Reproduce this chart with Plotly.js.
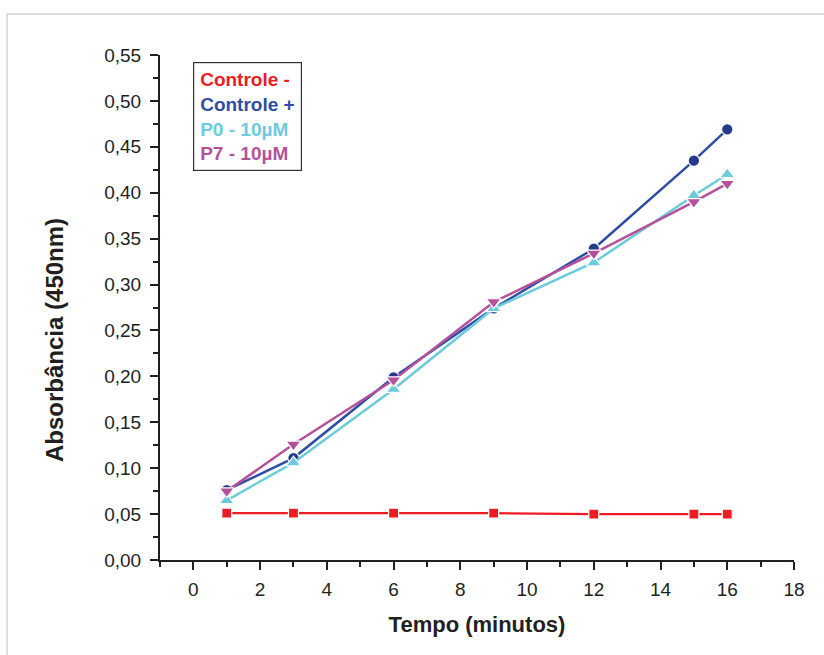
<!DOCTYPE html>
<html>
<head>
<meta charset="utf-8">
<script src="https://cdn.plot.ly/plotly-3.0.1.min.js"></script>
<style>
  html, body { margin: 0; padding: 0; background: #fff; }
  #wrap { position: relative; width: 824px; height: 655px; overflow: hidden; }
  #frame { position: absolute; left: 6px; top: 13px; width: 840px; height: 700px;
           border: 2px solid #dedede; box-sizing: border-box; }
  #chart { position: absolute; left: 0; top: 0; width: 824px; height: 655px; }
</style>
</head>
<body>
<div id="wrap">
  <div id="frame"></div>
  <div id="chart"></div>
</div>
<script>
// Data
const tempo = [1, 3, 6, 9, 12, 15, 16];
const controleNeg = [0.051, 0.051, 0.051, 0.051, 0.050, 0.050, 0.050];
const controlePos = [0.076, 0.111, 0.199, 0.274, 0.339, 0.435, 0.469];
const p0 = [0.065, 0.106, 0.186, 0.274, 0.324, 0.397, 0.420];
const p7 = [0.075, 0.126, 0.196, 0.281, 0.334, 0.390, 0.410];
const seriesNames = ["Controle -", "Controle +", "P0 - 10µM", "P7 - 10µM"];
const xTitle = "Tempo (minutos)";
const yTitle = "Absorbância (450nm)";

const colors = {
  neg: "#ed1c24",
  posLine: "#2e4ea3",
  posMarker: "#253a8c",
  p0: "#6ccbdb",
  p7: "#b5519b"
};

const traces = [
  { x: tempo, y: controleNeg, name: seriesNames[0], mode: "lines+markers",
    line: { color: colors.neg, width: 2.2 },
    marker: { symbol: "square", size: 10, color: colors.neg, line: { color: "#fff", width: 1.2 } },
    cliponaxis: false },
  { x: tempo, y: controlePos, name: seriesNames[1], mode: "lines+markers",
    line: { color: colors.posLine, width: 2.5 },
    marker: { symbol: "circle", size: 11.5, color: colors.posMarker, line: { color: "#fff", width: 1.2 } },
    cliponaxis: false },
  { x: tempo, y: p0, name: seriesNames[2], mode: "lines+markers",
    line: { color: colors.p0, width: 2.5 },
    marker: { symbol: "triangle-up", size: 13, color: colors.p0, line: { color: "#fff", width: 1.2 } },
    cliponaxis: false },
  { x: tempo, y: p7, name: seriesNames[3], mode: "lines+markers",
    line: { color: colors.p7, width: 2.5 },
    marker: { symbol: "triangle-down", size: 13, color: colors.p7, line: { color: "#fff", width: 1.2 } },
    cliponaxis: false }
];

const legendColors = [colors.neg, colors.posLine, colors.p0, colors.p7];
const legendText = seriesNames.map((n, i) =>
  `<span style="color:${legendColors[i]}">${n}</span>`).join("<br>");

const axisColor = "#231f20";
const fontFam = "'Liberation Sans', Arial, sans-serif";

const layout = {
  width: 824, height: 655,
  paper_bgcolor: "rgba(0,0,0,0)",
  plot_bgcolor: "rgba(0,0,0,0)",
  margin: { l: 160, r: 30, t: 55, b: 95 },
  separators: ",.",
  showlegend: false,
  font: { family: fontFam, color: axisColor },
  xaxis: {
    range: [-1, 18], tick0: 0, dtick: 2, tickmode: "linear",
    showgrid: false, zeroline: false,
    showline: true, linecolor: axisColor, linewidth: 2,
    ticks: "outside", ticklen: 8, tickwidth: 2, tickcolor: axisColor,
    ticklabelstandoff: 3,
    minor: { dtick: 1, tick0: 0, ticks: "outside", ticklen: 5, tickwidth: 2, tickcolor: axisColor, showgrid: false },
    tickfont: { size: 19, family: fontFam, color: axisColor },
    title: { text: "<b>" + xTitle + "</b>", font: { size: 22, family: fontFam, color: axisColor }, standoff: 18 }
  },
  yaxis: {
    range: [0, 0.55], tick0: 0, dtick: 0.05, tickmode: "linear", tickformat: ".2f",
    showgrid: false, zeroline: false,
    showline: true, linecolor: axisColor, linewidth: 2,
    ticks: "outside", ticklen: 8, tickwidth: 2, tickcolor: axisColor,
    ticklabelstandoff: 5,
    minor: { dtick: 0.025, tick0: 0, ticks: "outside", ticklen: 5, tickwidth: 2, tickcolor: axisColor, showgrid: false },
    tickfont: { size: 19, family: fontFam, color: axisColor }
  },
  annotations: [{
    xref: "paper", yref: "paper",
    x: (193 - 160) / 634, y: (560 - 62) / 505,
    xanchor: "left", yanchor: "top",
    text: "<b>" + legendText + "</b>",
    align: "left", showarrow: false,
    font: { size: 19, family: fontFam },
    bordercolor: "#333", borderwidth: 1.2, borderpad: 6, bgcolor: "#fff"
  }, {
    xref: "paper", yref: "paper",
    x: (54 - 160) / 634, y: (560 - 340) / 505,
    xanchor: "center", yanchor: "middle",
    textangle: -90, showarrow: false,
    text: "<b>" + yTitle + "</b>",
    font: { size: 24, family: fontFam, color: axisColor }
  }]
};

Plotly.newPlot("chart", traces, layout, { displayModeBar: false, staticPlot: true });
</script>
</body>
</html>
